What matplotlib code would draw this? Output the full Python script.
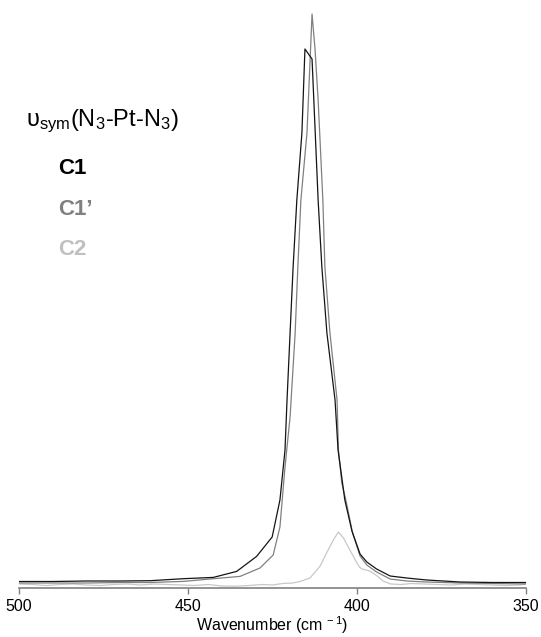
import numpy as np
from matplotlib import pyplot as plt

plt.rcParams['font.family'] = ['Liberation Sans', 'DejaVu Sans']
plt.rcParams['mathtext.default'] = 'regular'

# C1 (black) - wavenumber / intensity (arb. units)
c1_wn = [500, 490, 480, 470, 461.2, 451.4, 442.5, 435.6, 429.7, 425.1, 422.8, 421.3,
         420.7, 419.8, 418.9, 417.8, 416.3, 415.4, 413.3, 411.5, 410.4, 408.9, 406.5,
         405.6, 403.6, 401.5, 399.1, 397.1, 394.2, 390.2, 385.3, 379.4, 369.5, 360, 350]
c1_int = [6.5, 6.5, 7, 7, 7.3, 9.3, 10.6, 16.6, 31.6, 51, 88, 138,
          188, 255, 321, 388, 455, 539, 529, 388, 321, 255, 188,
          138, 88, 57, 34, 26, 19, 12, 10, 8, 6, 5.5, 5.5]

# C1' (grey)
c1p_wn = [500, 490, 480, 470, 461.2, 451.4, 442.5, 434.6, 428.7, 424.8, 422.8, 421.3,
          419.8, 418.3, 417.5, 416.6, 414.8, 413.3, 412.4, 411.5, 410.1, 409.5, 408,
          405.9, 405.5, 404.5, 403.3, 401.3, 399.1, 397.1, 394.2, 390.2, 385.3, 379.4,
          369.5, 360, 350]
c1p_int = [5, 5, 5, 5.5, 5.5, 6.6, 9.3, 11.6, 20, 33, 61, 121,
           171, 255, 321, 388, 455, 574, 538, 488, 388, 321, 255,
           188, 138, 105, 88, 55, 32, 23, 16, 9, 7, 6,
           5, 4.5, 4]

# C2 (light grey)
c2_wn = [500, 496, 492, 488, 484, 480, 476, 472, 468, 464, 460, 456, 452, 448, 444,
         440, 436, 432, 428, 425, 422, 419, 416.9, 413.9, 410.9, 409, 407, 405.5, 404,
         402.1, 400.5, 399.3, 398.5, 396.2, 394, 392.3, 390, 387, 384, 380, 376, 372,
         368, 364, 360, 356, 352, 350]
c2_int = [4, 3.5, 2.5, 3.5, 4, 3, 2.5, 3.5, 4, 3, 4, 3.5, 3, 2.5, 3.5,
          2, 1.8, 2.5, 3.5, 3, 4.5, 5, 6.5, 10, 22, 35, 48, 56, 50,
          38, 28, 21, 19, 17, 12, 7, 4, 3.5, 4.5, 4, 3.5, 3,
          4, 3.5, 3, 2.5, 3, 4]

ticks = [500, 450, 400, 350]

fig = plt.figure(figsize=(5.41, 6.37), dpi=100)
ax = fig.add_axes([19 / 541, 49 / 637, 507 / 541, 588 / 637])

ax.plot(c2_wn, c2_int, color='#c8c8c8', lw=0.9)
ax.plot(c1p_wn, c1p_int, color='#808080', lw=0.9)
ax.plot(c1_wn, c1_int, color='#141414', lw=0.9)

ax.set_xlim(500, 350)
ax.set_ylim(0, 588)
ax.set_xticks(ticks)
ax.set_xticklabels([str(t) for t in ticks])
ax.set_yticks([])
for s in ['top', 'right', 'left']:
    ax.spines[s].set_visible(False)
ax.spines['bottom'].set_color('#808080')
ax.spines['bottom'].set_linewidth(1.2)
ax.tick_params(axis='x', direction='out', length=4, width=1, color='#808080',
               labelsize=11.5, pad=4)
ax.set_xlabel(r'Wavenumber (cm$^{\,-1}$)', fontsize=11.5, labelpad=0)

fig.text(26 / 541, 1 - 126 / 637, r'υ$_{sym}$(N$_3$-Pt-N$_3$)', fontsize=17,
         ha='left', va='baseline')
fig.text(58 / 541, 1 - 174 / 637, 'C1', fontsize=16, fontweight='bold',
         color='#000000', ha='left', va='baseline')
fig.text(58 / 541, 1 - 215 / 637, 'C1\u2019', fontsize=16, fontweight='bold',
         color='#808080', ha='left', va='baseline')
fig.text(58 / 541, 1 - 255 / 637, 'C2', fontsize=16, fontweight='bold',
         color='#c0c0c0', ha='left', va='baseline')

fig.savefig('out.png', dpi=100)
